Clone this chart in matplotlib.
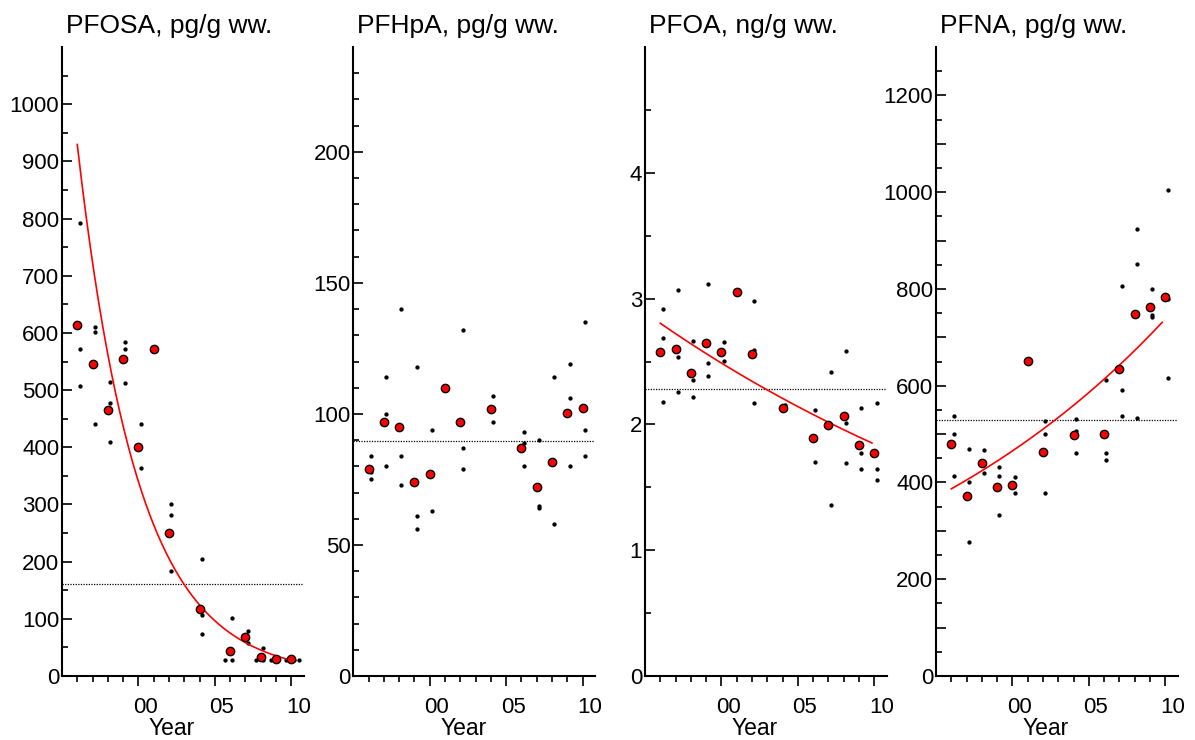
import numpy as np
import matplotlib
matplotlib.use("Agg")
import matplotlib.pyplot as plt

plt.rcParams['font.family'] = ['Liberation Sans', 'DejaVu Sans']

years = [1996, 1997, 1998, 1999, 2000, 2001, 2002, 2004, 2006, 2007, 2008, 2009, 2010]
titles = ["PFOSA, pg/g ww.", "PFHpA, pg/g ww.", "PFOA, ng/g ww.", "PFNA, pg/g ww."]

# annual medians (red)
pfosa_med = [613, 545, 465, 555, 400, 572, 250, 117, 44, 68, 34, 29, 29]
pfhpa_med = [79, 97, 95, 74, 77, 110, 97, 102, 87, 72, 81.6, 100.2, 102.1]
pfoa_med = [2.575, 2.60, 2.406, 2.644, 2.575, 3.05, 2.559, 2.131, 1.894, 1.994, 2.063, 1.836, 1.773]
pfna_med = [479.6, 372.4, 441.2, 390.3, 393.8, 650.1, 463.9, 498.1, 501, 634.2, 749, 763.5, 783.5]

# individual samples (black dots), by year
pfosa_samples = {1996: [793, 572, 507], 1997: [610, 602, 441], 1998: [514, 477, 410],
                 1999: [584, 572, 512], 2000: [441, 363], 2002: [300, 282, 184],
                 2004: [205, 106, 73], 2006: [28.5, 28.5, 102], 2007: [79, 58],
                 2008: [28.5, 28.5, 49.5], 2009: [28.5, 28.5], 2010: [28.5, 28.5, 28.5]}
pfhpa_samples = {1996: [84, 78, 75], 1997: [114, 100, 80], 1998: [140, 84, 73],
                 1999: [118, 61, 56], 2000: [94, 63], 2002: [132, 87, 79],
                 2004: [107, 97], 2006: [93, 89, 80], 2007: [90, 65, 64],
                 2008: [114, 58], 2009: [119, 106, 80], 2010: [135, 94, 84]}
pfoa_samples = {1996: [2.918, 2.688, 2.181], 1997: [3.068, 2.538, 2.261], 1998: [2.665, 2.353, 2.219],
                1999: [3.113, 2.49, 2.382], 2000: [2.657, 2.501], 2002: [2.984, 2.591, 2.173],
                2004: [2.153], 2006: [2.113, 1.698], 2007: [2.416, 1.361],
                2008: [2.583, 2.015, 1.696], 2009: [2.129, 1.77, 1.646], 2010: [2.173, 1.643, 1.559]}
pfna_samples = {1996: [536.7, 499.6, 413], 1997: [469.3, 400.6, 276.3], 1998: [468, 419.8],
                1999: [431.5, 413.6, 333.2], 2000: [411, 378], 2002: [527, 501, 378],
                2004: [530.5, 506.4, 461], 2006: [612.4, 461.9, 445.4], 2007: [806, 590.3, 537.3],
                2008: [924, 852, 533.2], 2009: [800, 747, 742], 2010: [1004, 779, 615.7]}

# overall mean reference levels (dotted)
ref_levels = [161, 89.5, 2.284, 530]

# log-linear trend fits: (start year, start value, end year, end value); None = no trend
fits = [(1996, 929.5, 2009.85, 28.5), None, (1996, 2.804, 2009.85, 1.852), (1996, 386.8, 2009.8, 731)]

# y axes
ylims = [1100, 240, 5, 1300]
y_major = [list(range(0, 1001, 100)), [0, 50, 100, 150, 200], [0, 1, 2, 3, 4], list(range(0, 1201, 100))]
y_labels = [[str(v) for v in range(0, 1001, 100)], ["0", "50", "100", "150", "200"],
            ["0", "1", "2", "3", "4"], [str(v) if v % 200 == 0 else "" for v in range(0, 1201, 100)]]
y_minor = [list(range(50, 1051, 100)), [v for v in range(10, 240, 10) if v % 50],
           [0.5, 1.5, 2.5, 3.5, 4.5], list(range(50, 1251, 100))]

x_major = [2000, 2005, 2010]
x_minor = list(range(1996, 2011))

meds = [pfosa_med, pfhpa_med, pfoa_med, pfna_med]
samples = [pfosa_samples, pfhpa_samples, pfoa_samples, pfna_samples]

W, H = 1195, 740
fig = plt.figure(figsize=(W / 100, H / 100), dpi=100)
lefts = [62, 353.3, 645, 936]
ax_w = 241.5
ax_top, ax_bot = 47, 676

dup_offsets = [-0.33, 0.15, 0.5]

for i in range(4):
    ax = fig.add_axes([lefts[i] / W, (H - ax_bot) / H, ax_w / W, (ax_bot - ax_top) / H])
    ax.set_xlim(1995, 2010.8)
    ax.set_ylim(0, ylims[i])

    # sample dots
    xs, ys = [], []
    for yr, vals in samples[i].items():
        counts = {}
        for v in vals:
            n = vals.count(v)
            k = counts.get(v, 0)
            counts[v] = k + 1
            off = dup_offsets[k] if n > 1 else 0.15
            xs.append(yr + off)
            ys.append(v)
    ax.plot(xs, ys, 'o', ms=3.1, color='black', mec='black', mew=0, zorder=2, clip_on=False)

    # reference dotted line
    ax.axhline(ref_levels[i], color='black', lw=0.9, ls=(0, (1, 1.1)), zorder=1)

    # fitted trend
    if fits[i] is not None:
        t0, v0, t1, v1 = fits[i]
        t = np.linspace(t0, t1, 200)
        ax.plot(t, v0 * (v1 / v0) ** ((t - t0) / (t1 - t0)), color='red', lw=1.2, zorder=3)

    # medians
    ax.plot(years, meds[i], 'o', ms=6.0, color='red', mec='black', mew=1.0, zorder=4, clip_on=False)

    for s in ['top', 'right']:
        ax.spines[s].set_visible(False)
    for s in ['left', 'bottom']:
        ax.spines[s].set_linewidth(1.5)

    ax.set_yticks(y_major[i])
    ax.set_yticklabels(y_labels[i])
    ax.set_yticks(y_minor[i], minor=True)
    ax.set_xticks(x_major)
    ax.set_xticks(x_minor, minor=True)
    ax.tick_params(axis='y', which='major', direction='in', length=7, width=1.2,
                   labelsize=16, pad=2)
    ax.tick_params(axis='y', which='minor', direction='in', length=4.3, width=1.2)
    ax.tick_params(axis='x', which='major', direction='out', length=7.5, width=1.2,
                   labelbottom=False)
    ax.tick_params(axis='x', which='minor', direction='out', length=4.3, width=1.2)

    for yr in x_major:
        ax.annotate(f"{yr % 100:02d}", xy=(yr, 0), xycoords=('data', 'axes fraction'),
                    xytext=(5.0, -26.6), textcoords='offset points',
                    ha='center', va='baseline', fontsize=16)
    ax.annotate("Year", xy=(0.456, 0), xycoords='axes fraction',
                xytext=(0, -42.5), textcoords='offset points',
                ha='center', va='baseline', fontsize=16.5)
    ax.annotate(titles[i], xy=(0, 1), xycoords='axes fraction',
                xytext=(2.9, 10.0), textcoords='offset points',
                ha='left', va='baseline', fontsize=19)

fig.savefig("out.png", dpi=100)
